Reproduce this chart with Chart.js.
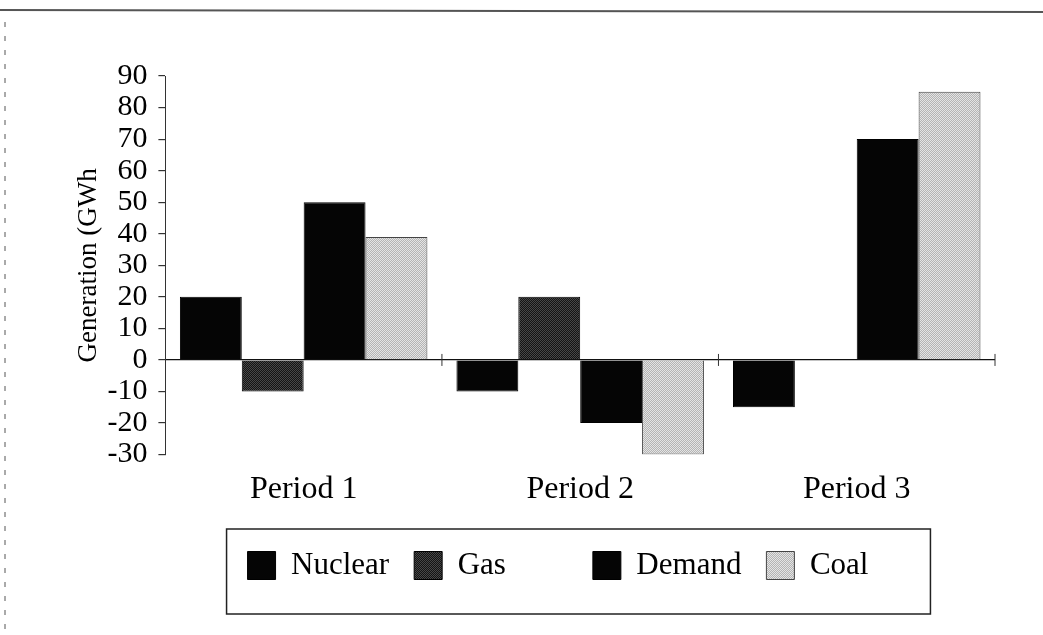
<!DOCTYPE html>
<html>
<head>
<meta charset="utf-8">
<title>Generation by period</title>
<script src="https://cdn.jsdelivr.net/npm/chart.js@4/dist/chart.umd.min.js"></script>
<style>
    html, body { margin: 0; padding: 0; background: #fff; }
    #chart-wrap { width: 1043px; height: 635px; }
</style>
</head>
<body>
<div id="chart-wrap"><canvas id="gen-chart" width="1043" height="635"></canvas></div>
<script>
// data
const categories = ['Period 1', 'Period 2', 'Period 3'];
const nuclear = [20, -10, -15];
const gas = [-10, 20, 0];
const demand = [50, -20, 70];
const coal = [39, -30, 85];
const yTicks = [90, 80, 70, 60, 50, 40, 30, 20, 10, 0, -10, -20, -30];

const SERIF = '"Liberation Serif", "DejaVu Serif", serif';
const LEGEND_PAD = 25;

// small dithered fills to mimic the print screens
function makePattern(a, b) {
    const c = document.createElement('canvas');
    c.width = 2;
    c.height = 2;
    const g = c.getContext('2d');
    g.fillStyle = a;
    g.fillRect(0, 0, 2, 2);
    g.fillStyle = b;
    g.fillRect(0, 0, 1, 1);
    g.fillRect(1, 1, 1, 1);
    return g.createPattern(c, 'repeat');
}

const gasFill = makePattern('#141414', '#474747');
const coalFill = makePattern('#b4b4b4', '#e4e4e4');

// scan frame + legend box + category marks on the zero line
const decorPlugin = {
    id: 'decor',
    afterUpdate(chart) {
        // legend in the print sits a bit right of centre
        const lg = chart.legend;
        lg.left += 24;
        lg.right += 24;
    },
    beforeDraw(chart) {
        const ctx = chart.ctx;
        ctx.save();
        ctx.fillStyle = '#fff';
        ctx.fillRect(0, 0, chart.width, chart.height);
        ctx.strokeStyle = '#555';
        ctx.lineWidth = 2;
        ctx.beginPath();
        ctx.moveTo(0, 10);
        ctx.lineTo(chart.width, 12);
        ctx.stroke();
        ctx.lineWidth = 1;
        ctx.setLineDash([5, 9]);
        ctx.beginPath();
        ctx.moveTo(5, 22);
        ctx.lineTo(5, chart.height);
        ctx.stroke();
        ctx.restore();
    },
    afterDatasetsDraw(chart) {
        const ctx = chart.ctx;
        const xs = chart.scales.x;
        const y0 = chart.scales.y.getPixelForValue(0);
        ctx.save();
        ctx.strokeStyle = '#333';
        ctx.lineWidth = 1;
        const n = categories.length;
        for (let i = 1; i <= n; i++) {
            const x = xs.left + i * xs.width / n;
            ctx.beginPath();
            ctx.moveTo(x, y0 - 6);
            ctx.lineTo(x, y0 + 6);
            ctx.stroke();
        }
        ctx.restore();
    },
    afterDraw(chart) {
        const lg = chart.legend;
        if (!lg || !lg.lineWidths) return;
        const total = lg.lineWidths[0];
        const startX = (lg.left + LEGEND_PAD + lg.right - total) / 2;
        const endX = startX + total - LEGEND_PAD;
        const ctx = chart.ctx;
        ctx.save();
        ctx.strokeStyle = '#222';
        ctx.lineWidth = 1.5;
        ctx.strokeRect(startX - 21, lg.top + LEGEND_PAD - 21, endX - startX + 83, 85);
        ctx.restore();
    }
};

const ctx = document.getElementById('gen-chart').getContext('2d');
const chart = new Chart(ctx, {
    type: 'bar',
    data: {
        labels: categories,
        datasets: [
            { label: 'Nuclear', data: nuclear, backgroundColor: '#050505', borderColor: '#000', borderWidth: 1 },
            { label: 'Gas', data: gas, backgroundColor: gasFill, borderColor: '#000', borderWidth: 1 },
            { label: 'Demand', data: demand, backgroundColor: '#050505', borderColor: '#000', borderWidth: 1 },
            { label: 'Coal', data: coal, backgroundColor: coalFill, borderColor: '#444', borderWidth: 1 }
        ]
    },
    options: {
        responsive: false,
        animation: false,
        layout: {
            padding: { left: 73, right: 48, top: 76, bottom: 44 }
        },
        datasets: {
            bar: { barPercentage: 1, categoryPercentage: 0.895 }
        },
        scales: {
            x: {
                grid: { display: false, drawTicks: false },
                border: { display: false },
                ticks: {
                    color: '#000',
                    padding: 16,
                    font: { family: SERIF, size: 32 }
                }
            },
            y: {
                min: -30,
                max: 90,
                afterBuildTicks: (scale) => {
                    scale.ticks = yTicks.map(v => ({ value: v }));
                },
                border: { display: true, color: '#333', width: 1 },
                grid: {
                    color: (c) => (c.tick && c.tick.value === 0 ? '#111' : 'rgba(0,0,0,0)'),
                    lineWidth: 1.2,
                    tickColor: '#333',
                    tickLength: 7
                },
                ticks: {
                    autoSkip: false,
                    color: '#000',
                    padding: 11,
                    font: { family: SERIF, size: 30 }
                },
                title: {
                    display: true,
                    text: 'Generation (GWh',
                    color: '#000',
                    padding: { top: 0, bottom: -9 },
                    font: { family: SERIF, size: 27 }
                }
            }
        },
        plugins: {
            legend: {
                position: 'bottom',
                labels: {
                    color: '#000',
                    boxWidth: 28,
                    boxHeight: 28,
                    padding: LEGEND_PAD,
                    font: { family: SERIF, size: 31 },
                    // the print has a wider gap after "Gas"
                    generateLabels: (chart) => {
                        const items = Chart.defaults.plugins.legend.labels.generateLabels(chart);
                        items.forEach(it => {
                            if (it.text === 'Gas') it.text = 'Gas' + '\u00a0'.repeat(8);
                        });
                        return items;
                    }
                }
            },
            tooltip: { enabled: false }
        }
    },
    plugins: [decorPlugin]
});
</script>
</body>
</html>
